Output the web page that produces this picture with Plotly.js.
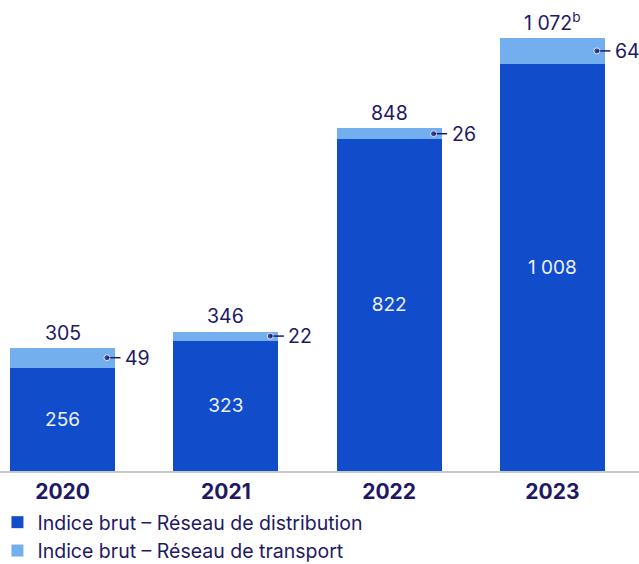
<!DOCTYPE html>
<html><head><meta charset="utf-8">
<script src="https://cdn.plot.ly/plotly-3.0.1.min.js"></script>
<style>html,body{margin:0;padding:0;background:#fff}#c{width:639px;height:564px}</style>
</head><body><div id="c"></div>
<script>
const years = ['2020','2021','2022','2023'];
const distribution = [256, 323, 822, 1008];
const transport = [49, 22, 26, 64];
const totals = [305, 346, 848, 1072];
const totalLabels = ['305', '346', '848', '1 072<sup>b</sup>'];
const distLabels = ['256', '323', '822', '1 008'];
const seriesNames = ['Indice brut – Réseau de distribution', 'Indice brut – Réseau de transport'];

const navy = '#1e1865';
const dark = '#114ccb';
const light = '#73aeef';
const FONT = 'Inter, "Noto Sans", sans-serif';
const idx = years.map((_, i) => i);

const traces = [
  {type:'bar', x: idx, y: distribution, name: seriesNames[0], marker:{color:dark},
   text: distLabels, textposition:'inside', insidetextanchor:'middle', textangle:0,
   textfont:{family:FONT, size:19, color:'#eef1ff'}, hoverinfo:'skip'},
  {type:'bar', x: idx, y: transport, name: seriesNames[1], marker:{color:light},
   textposition:'none', hoverinfo:'skip'}
];
idx.forEach(i => {
  const ym = distribution[i] + transport[i]/2;
  traces.push({type:'scatter', mode:'lines+markers', x:[i+0.272, i+0.355], y:[ym, ym],
    line:{color:navy, width:1.5}, marker:{color:navy, size:[6,0]}, showlegend:false, hoverinfo:'skip', cliponaxis:false});
});

const annotations = [];
idx.forEach(i => {
  annotations.push({x:i, y:totals[i], xref:'x', yref:'y', text:totalLabels[i], showarrow:false,
    yanchor:'bottom', yshift:1, font:{family:FONT, size:19.5, color:navy}});
  annotations.push({x:i+0.37, y:distribution[i] + transport[i]/2, xref:'x', yref:'y', text:String(transport[i]),
    showarrow:false, xanchor:'left', yanchor:'middle', font:{family:FONT, size:19.5, color:navy}});
});

const layout = {
  width:639, height:564, barmode:'stack', bargap:0.357,
  margin:{l:0, r:0, t:0, b:93, autoexpand:false},
  paper_bgcolor:'#fff', plot_bgcolor:'#fff',
  font:{family:FONT, color:navy},
  xaxis:{type:'linear', range:[-0.383, 3.53], tickvals:idx, ticktext:years, showgrid:false, zeroline:false,
    showline:true, linecolor:'#c8c8c8', linewidth:1.5, ticks:'', ticklabelstandoff:1, automargin:false,
    tickfont:{family:FONT, size:21, color:navy, weight:'bold'}, fixedrange:true},
  yaxis:{range:[0, 1166], visible:false, showgrid:false, zeroline:false, fixedrange:true},
  showlegend:true,
  legend:{orientation:'v', x:-0.004, xanchor:'left', yref:'container', y:(564-503)/564, yanchor:'top', traceorder:'normal',
    font:{family:FONT, size:19.5, color:navy}, itemwidth:30, tracegroupgap:0, bgcolor:'rgba(0,0,0,0)'},
  annotations: annotations
};
Plotly.newPlot('c', traces, layout, {displayModeBar:false, staticPlot:true});
</script></body></html>
